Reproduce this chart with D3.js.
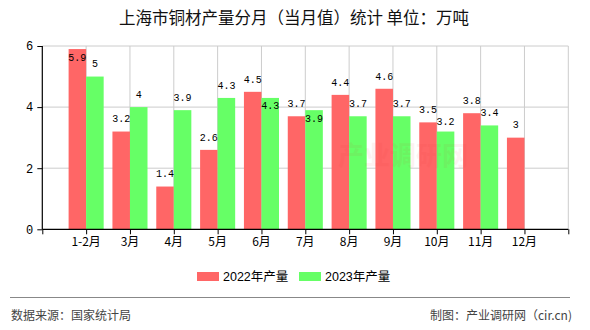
<!DOCTYPE html>
<html><head><meta charset="utf-8">
<script src="https://cdn.jsdelivr.net/npm/d3@7"></script>
<style>body{margin:0;background:#fff}svg{display:block}</style>
</head><body>
<svg id="c" width="590" height="330"></svg>
<script>
const categories = ["1-2月","3月","4月","5月","6月","7月","8月","9月","10月","11月","12月"];
const values2022 = [5.9,3.2,1.4,2.6,4.5,3.7,4.4,4.6,3.5,3.8,3];
const values2023 = [5,4,3.9,4.3,4.3,3.9,3.7,3.7,3.2,3.4,null];
const seriesNames = ["2022年产量","2023年产量"];
const yTicks = [0,2,4,6];
const colors = ["#ff6666","#66ff66"];
const title = "上海市铜材产量分月（当月值）统计 单位：万吨";

const svg = d3.select("#c");
const pL = 42.3, pR = 568.3, pT = 46, pB = 229.3;
const x = d3.scaleLinear().domain([0, categories.length + 1]).range([pL, pR]);
const y = d3.scaleLinear().domain([0, 6]).range([pB, pT]);
const step = x(1) - x(0);
const bw = step * 0.4;

// title
svg.append("text").attr("x", 294).attr("y", 24).attr("text-anchor", "middle")
  .attr("font-family", "Noto Sans CJK SC").attr("font-size", 16.5).attr("fill", "#111")
  .text(title);

// grid
const g = svg.append("g");
g.selectAll("line.h").data(yTicks.filter(d => d > 0)).join("line")
  .attr("x1", pL).attr("x2", pR).attr("y1", d => y(d)).attr("y2", d => y(d))
  .attr("stroke", "#cccccc").attr("stroke-width", 1);
g.selectAll("line.v").data(d3.range(1, categories.length + 2)).join("line")
  .attr("x1", d => x(d)).attr("x2", d => x(d)).attr("y1", pT).attr("y2", pB)
  .attr("stroke", "#cccccc").attr("stroke-width", 1);

// bars
const bars = svg.append("g");
categories.forEach((c, i) => {
  const cx = x(i + 1);
  [values2022[i], values2023[i]].forEach((v, s) => {
    if (v == null) return;
    bars.append("rect").attr("x", s === 0 ? cx - bw : cx).attr("width", bw)
      .attr("y", y(v)).attr("height", y(0) - y(v)).attr("fill", colors[s]);
  });
});

// faint watermark (drawn over bars, as in the reference)
svg.append("text").attr("x", 338).attr("y", 165)
  .attr("font-family", "Noto Sans CJK SC").attr("font-weight", "bold").attr("font-size", 26)
  .attr("fill", "#e03030").attr("opacity", 0.06).text("产业调研网");

// axes
const yAxis = d3.axisLeft(y).tickValues(yTicks).tickFormat(d3.format("d")).tickSize(5).tickPadding(4);
const ya = svg.append("g").attr("transform", `translate(${pL},0)`).call(yAxis);
const xAxis = d3.axisBottom(x).tickValues(d3.range(0, categories.length + 2)).tickSize(5).tickFormat("");
const xa = svg.append("g").attr("transform", `translate(0,${pB})`).call(xAxis);
[ya, xa].forEach(a => {
  a.select(".domain").attr("stroke", "#000").attr("stroke-width", 1.2);
  a.selectAll(".tick line").attr("stroke", "#000");
  a.selectAll("text").attr("font-family", "Liberation Mono, DejaVu Sans Mono").attr("font-size", 12).attr("fill", "#000");
});
ya.select(".domain").attr("d", `M0,${pT}V${pB}`);
xa.select(".domain").attr("d", `M${pL},0H${pR}`);
svg.append("g").selectAll("text").data(categories).join("text")
  .attr("x", (d, i) => x(i + 1)).attr("y", pB + 17).attr("text-anchor", "middle")
  .attr("font-family", "Noto Sans CJK SC").attr("font-size", 12).attr("fill", "#000").text(d => d);

// value labels with simple overlap handling
const lab = svg.append("g").attr("font-family", "Liberation Mono, DejaVu Sans Mono")
  .attr("font-size", 10).attr("fill", "#000").attr("text-anchor", "middle");
categories.forEach((c, i) => {
  const cx = x(i + 1);
  const r = values2022[i], gv = values2023[i];
  const rTop = y(r);
  let rC = rTop - 12.7;
  if (rC - 6 < pT) rC = rTop + 8;
  const rx = cx - bw / 2;
  lab.append("text").attr("x", rx).attr("y", rC).attr("dy", "0.35em").text(r);
  if (gv == null) return;
  const gTop = y(gv);
  let gC = gTop - 12.7;
  const gx = cx + bw / 2;
  const wr = String(r).length * 6, wg = String(gv).length * 6;
  if ((wr + wg) / 2 > (gx - rx) && Math.abs(gC - rC) < 12) {
    const cand = rC + 12;
    gC = cand <= gTop - 8 ? cand : gTop + 8;
  }
  lab.append("text").attr("x", gx).attr("y", gC).attr("dy", "0.35em").text(gv);
});

// legend
const lg = svg.append("g");
const lx = [197, 299];
seriesNames.forEach((n, s) => {
  lg.append("rect").attr("x", lx[s]).attr("y", 272).attr("width", 22).attr("height", 9).attr("fill", colors[s]);
  lg.append("text").attr("x", lx[s] + 26).attr("y", 281).attr("font-family", "Liberation Sans, Noto Sans CJK SC")
    .attr("font-size", 12.5).attr("fill", "#000").text(n);
});

// footer
svg.append("line").attr("x1", 10).attr("x2", 570).attr("y1", 297.5).attr("y2", 297.5)
  .attr("stroke", "#888").attr("stroke-width", 1.2);
svg.append("text").attr("x", 11).attr("y", 320).attr("font-family", "Noto Sans CJK SC")
  .attr("font-size", 12).attr("fill", "#444").text("数据来源：国家统计局");
svg.append("text").attr("x", 572).attr("y", 320).attr("text-anchor", "end").attr("font-family", "Noto Sans CJK SC")
  .attr("font-size", 12).attr("fill", "#444").text("制图：产业调研网（cir.cn)");
</script>
</body></html>
